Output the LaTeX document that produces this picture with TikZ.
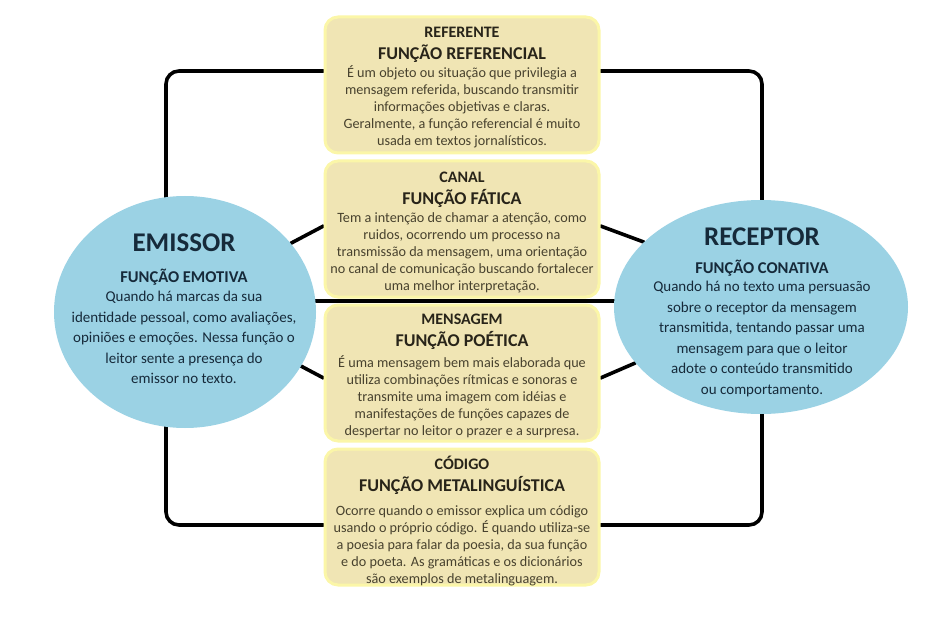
\documentclass[tikz,border=0pt]{standalone}
\usepackage{fontspec}
\setmainfont{Carlito}
\usetikzlibrary{positioning,shapes.geometric,backgrounds,calc}
\definecolor{sand}{RGB}{240,229,180}
\definecolor{glow}{RGB}{251,246,168}
\definecolor{sky}{RGB}{155,210,228}
\definecolor{ink}{RGB}{40,36,25}
\definecolor{bodyink}{RGB}{72,66,46}
\definecolor{navyink}{RGB}{22,42,58}
\tikzset{
  funcbox/.style={draw=glow, line width=3pt, fill=sand, rounded corners=13pt,
    minimum width=274pt, minimum height=136pt},
  headtext/.style={align=center, text=ink, inner sep=0pt,
    font=\bfseries\fontsize{18}{22}\selectfont},
  bodytext/.style={align=center, text=bodyink, inner sep=0pt,
    font=\fontsize{14.2}{17}\selectfont},
  partybox/.style={ellipse, fill=sky, inner sep=0pt},
  partytext/.style={align=center, text=navyink, inner sep=0pt,
    font=\fontsize{15}{20.5}\selectfont},
  link/.style={line width=3.6pt, line cap=round}
}

\begin{document}
\begin{tikzpicture}[x=1pt, y=-1pt]
\useasboundingbox (0,0) rectangle (931,620);

% the four functions in the middle column
\node[funcbox] (refbox) at (462,85) {};
\node[funcbox, below=5pt of refbox] (canalbox) {};
\node[funcbox, below=5pt of canalbox] (msgbox) {};
\node[funcbox, below=5pt of msgbox] (codbox) {};

\node[headtext, below=11pt of refbox.north] (refhead)
  {{\fontsize{16}{18}\selectfont REFERENTE}\\FUNÇÃO REFERENCIAL};
\node[bodytext, below=3pt of refhead] (reftext)
  {É um objeto ou situação que privilegia a\\mensagem referida, buscando transmitir\\
   informações objetivas e claras.\\Geralmente, a função referencial é muito\\
   usada em textos jornalísticos.};

\node[headtext, below=12pt of canalbox.north] (canalhead)
  {{\fontsize{16}{18}\selectfont CANAL}\\FUNÇÃO FÁTICA};
\node[bodytext, below=5pt of canalhead] (canaltext)
  {Tem a intenção de chamar a atenção, como\\ruidos, ocorrendo um processo na\\
   transmissão da mensagem, uma orientação\\no canal de comunicação buscando fortalecer\\
   uma melhor interpretação.};

\node[headtext, below=10pt of msgbox.north] (msghead)
  {{\fontsize{16}{18}\selectfont MENSAGEM}\\FUNÇÃO POÉTICA};
\node[bodytext, below=6pt of msghead] (msgtext)
  {É uma mensagem bem mais elaborada que\\utiliza combinações rítmicas e sonoras e\\
   transmite uma imagem com idéias e\\manifestações de funções capazes de\\
   despertar no leitor o prazer e a surpresa.};

\node[headtext, below=8pt of codbox.north] (codhead)
  {{\fontsize{16}{18}\selectfont CÓDIGO}\\FUNÇÃO METALINGUÍSTICA};
\node[bodytext, below=11pt of codhead] (codtext)
  {Ocorre quando o emissor explica um código\\usando o próprio código. É quando utiliza-se\\
   a poesia para falar da poesia, da sua função\\e do poeta. As gramáticas e os dicionários\\
   são exemplos de metalinguagem.};

% sender and receiver
\node[partybox, minimum width=262pt, minimum height=232pt] (emissor) at (185,312) {};
\node[partybox, minimum width=294pt, minimum height=214pt] (receptor) at (761,307) {};

\node[partytext] (emissortext) at (184,309)
  {{\bfseries\fontsize{27}{30}\selectfont EMISSOR}\\[10pt]
   {\bfseries\fontsize{16.5}{18}\selectfont FUNÇÃO EMOTIVA}\\[-1pt]
   Quando há marcas da sua\\identidade pessoal, como avaliações,\\
   opiniões e emoções. Nessa função o\\leitor sente a presença do\\emissor no texto.};
\node[partytext] (receptortext) at (762,312.5)
  {{\bfseries\fontsize{27}{30}\selectfont RECEPTOR}\\[7pt]
   {\bfseries\fontsize{16.5}{18}\selectfont FUNÇÃO CONATIVA}\\[-2pt]
   Quando há no texto uma persuasão\\sobre o receptor da mensagem\\
   transmitida, tentando passar uma\\mensagem para que o leitor\\
   adote o conteúdo transmitido\\ou comportamento.};

% connecting lines behind everything
\coordinate (tl) at (166,71);
\coordinate (tr) at (762,71);
\coordinate (bl) at (166,525);
\coordinate (br) at (762,525);
\coordinate (mid) at ($(canalbox.south)!0.5!(msgbox.north)$);
\begin{scope}[on background layer]
\draw[link, rounded corners=13pt] (refbox.west |- tl) -- (tl) -- (tl |- emissor.center);
\draw[link, rounded corners=13pt] (refbox.east |- tr) -- (tr) -- (tr |- receptor.center);
\draw[link, rounded corners=13pt] (codbox.west |- bl) -- (bl) -- (bl |- emissor.center);
\draw[link, rounded corners=13pt] (codbox.east |- br) -- (br) -- (br |- receptor.center);
\draw[link] (emissor.center |- mid) -- (receptor.center |- mid);
\draw[link] (emissor.33) -- ([yshift=3pt]canalbox.west);
\draw[link] (emissor.-25) -- ([yshift=-5pt]msgbox.west);
\draw[link] (receptor.151) -- ([yshift=3pt]canalbox.east);
\draw[link] (receptor.204) -- ([yshift=-5pt]msgbox.east);
\end{scope}
\end{tikzpicture}
\end{document}
